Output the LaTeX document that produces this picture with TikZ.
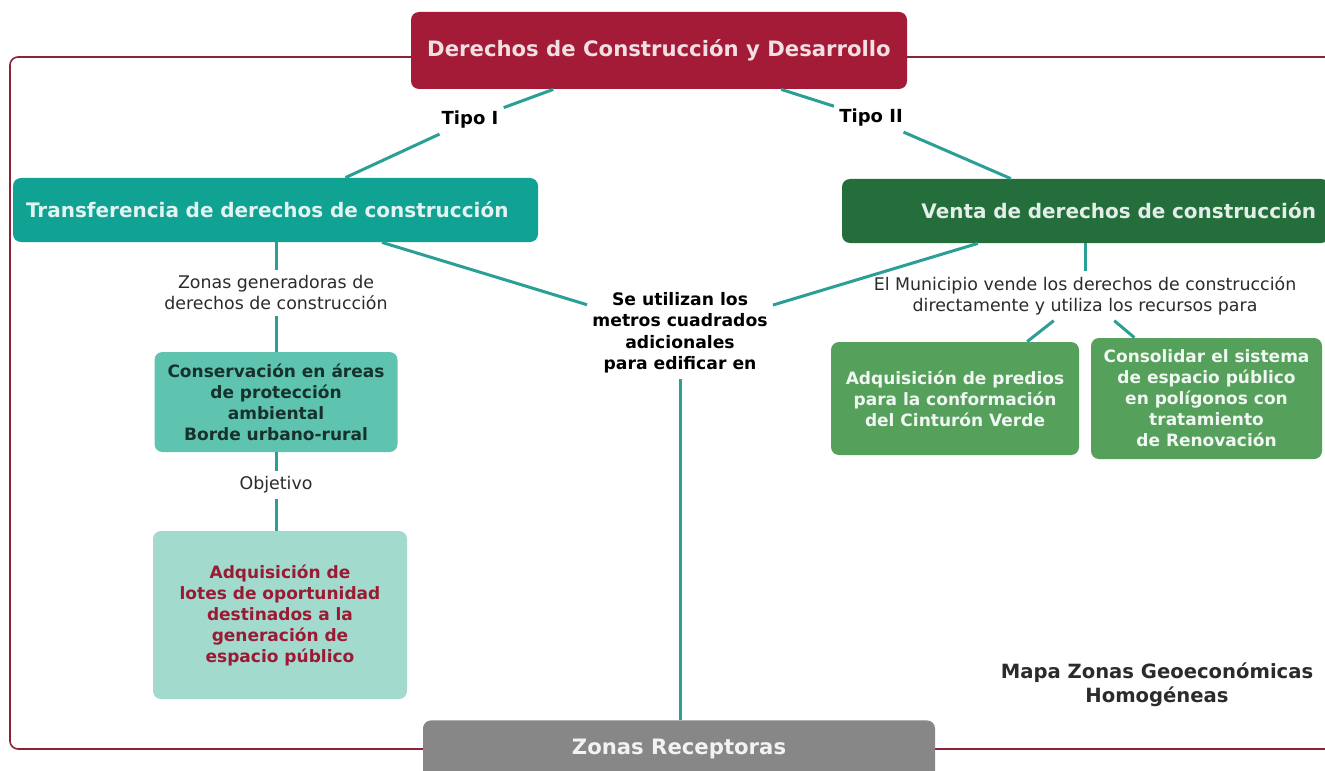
\documentclass[tikz,border=0pt]{standalone}
\usepackage{fontspec}
\setmainfont{DejaVu Sans}
\definecolor{crimson}{HTML}{A31B36}
\definecolor{teal1}{HTML}{10A393}
\definecolor{darkgreen}{HTML}{236E3B}
\definecolor{midteal}{HTML}{5EC4B0}
\definecolor{paleteal}{HTML}{A2DACE}
\definecolor{leaf}{HTML}{55A05B}
\definecolor{linkcol}{HTML}{2A9F95}
\definecolor{framecol}{HTML}{8C2236}
\definecolor{ink}{HTML}{2B2B2B}

\begin{document}
\begin{tikzpicture}[x=0.5pt,y=-0.5pt,
    box/.style={rounded corners=4pt,inner sep=0pt,align=center,
      font=\bfseries\fontsize{8.5}{10.5}\selectfont},
    head/.style={box,font=\bfseries\fontsize{10}{12}\selectfont,minimum height=32pt},
    lbl/.style={inner sep=2.5pt,align=center,text=ink,font=\fontsize{8.7}{10.5}\selectfont},
    blbl/.style={lbl,text=black,font=\bfseries\fontsize{8.6}{10.75}\selectfont},
    link/.style={draw=linkcol,line width=1.5pt}]
  \useasboundingbox (0,0) rectangle (1325,770);
  \fill[white] (0,0) rectangle (1325,770);
  % frame
  \draw[framecol,line width=0.8pt,rounded corners=4pt] (1335,57) -- (10,57) -- (10,749) -- (1335,749);

  \node[head,fill=crimson,text=white!86!crimson,minimum width=248pt,minimum height=38.5pt,
    font=\bfseries\fontsize{10.6}{12}\selectfont] (top) at (659,50.5) {Derechos de Construcción y Desarrollo};
  \node[head,fill=teal1,text=white!88!teal1,text width=249.5pt,align=left,inner xsep=6.5pt]
    (trans) at (275.5,210) {Transferencia de derechos de construcción};
  \node[head,fill=darkgreen,text=white!88!darkgreen,text width=230.5pt,align=right,inner xsep=6.5pt]
    (venta) at (1085.5,211) {Venta de derechos de construcción};
  \node[box,fill=black!47,text=white!95!black,minimum width=256pt,anchor=north,
    text height=8pt,text depth=4pt,inner ysep=9pt,
    font=\bfseries\fontsize{10.6}{12}\selectfont] (zr) at (679,720) {Zonas Receptoras};

  \node[box,fill=midteal,text=black!75!midteal,minimum width=121.5pt,minimum height=50pt]
    (cons) at (276,402) {Conservación en áreas\\de protección\\ambiental\\Borde urbano-rural};
  \node[box,fill=paleteal,text=crimson!95!black,minimum width=127pt,minimum height=84pt]
    (lotes) at (280,615) {Adquisición de\\lotes de oportunidad\\destinados a la\\generación de\\espacio público};
  \node[box,fill=leaf,text=white!92!leaf,minimum width=124pt,minimum height=56.5pt]
    (predios) at (955,398.5) {Adquisición de predios\\para la conformación\\del Cinturón Verde};
  \node[box,fill=leaf,text=white!92!leaf,minimum width=115.5pt,minimum height=60.5pt]
    (consol) at (1206.5,398.5) {Consolidar el sistema\\de espacio público\\en polígonos con\\tratamiento\\de Renovación};

  \node[blbl,font=\bfseries\fontsize{9}{11}\selectfont] (tipoI) at (470,120) {Tipo I};
  \node[blbl,font=\bfseries\fontsize{9}{11}\selectfont] (tipoII) at (871,118) {Tipo II};
  \node[blbl] (se) at (680,333) {Se utilizan los\\metros cuadrados\\adicionales\\para edificar en};
  \node[lbl] (zg) at (276,293) {Zonas generadoras de\\derechos de construcción};
  \node[lbl] (obj) at (276,485) {Objetivo};
  \node[lbl] (mun) at (1085,296) {El Municipio vende los derechos de construcción\\directamente y utiliza los recursos para};
  \node[blbl,text=ink,font=\bfseries\fontsize{9.8}{12}\selectfont] (mapa) at (1157,685) {Mapa Zonas Geoeconómicas\\Homogéneas};

  \draw[link] (top) -- (tipoI) -- (trans);
  \draw[link] (top) -- (tipoII) -- (venta);
  \draw[link] (trans) -- (se) -- (venta);
  \draw[link] (se) -- (se |- zr.north);
  \draw[link] (trans.south -| zg) -- (zg) -- (cons) -- (obj) -- (obj |- lotes.north);
  \draw[link] (venta.south -| mun) -- (mun);
  \draw[link] (predios) -- (mun) -- (consol);
\end{tikzpicture}
\end{document}
